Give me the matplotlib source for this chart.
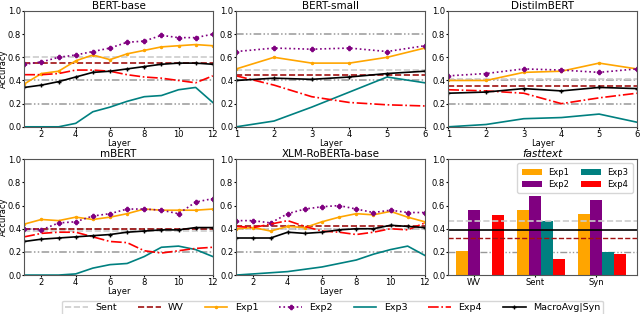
import matplotlib.pyplot as plt
import numpy as np

#
# Data
#

layers12 = list(range(1, 13))
layers6 = list(range(1, 7))

# BERT-base
bb_exp1 = [0.37, 0.46, 0.48, 0.57, 0.62, 0.58, 0.63, 0.66, 0.69, 0.70, 0.71, 0.70]
bb_exp2 = [0.54, 0.56, 0.60, 0.62, 0.65, 0.68, 0.73, 0.74, 0.79, 0.77, 0.77, 0.80]
bb_exp3 = [0.00, 0.00, 0.00, 0.03, 0.13, 0.17, 0.22, 0.26, 0.27, 0.32, 0.34, 0.21]
bb_exp4 = [0.45, 0.45, 0.46, 0.49, 0.49, 0.48, 0.45, 0.43, 0.42, 0.40, 0.38, 0.44]
bb_macro = [0.34, 0.36, 0.39, 0.43, 0.47, 0.48, 0.50, 0.52, 0.54, 0.55, 0.55, 0.54]
bb_sent, bb_wv = 0.60, 0.555
bb_base = [0.2, 0.4, 1.0]

# BERT-small
bs_exp1 = [0.50, 0.60, 0.55, 0.55, 0.60, 0.68]
bs_exp2 = [0.65, 0.68, 0.67, 0.68, 0.65, 0.70]
bs_exp3 = [0.00, 0.05, 0.17, 0.30, 0.43, 0.38]
bs_exp4 = [0.44, 0.36, 0.26, 0.21, 0.19, 0.18]
bs_macro = [0.40, 0.42, 0.41, 0.43, 0.46, 0.48]
bs_sent, bs_wv = 0.49, 0.45
bs_base = [0.4, 0.8, 1.0]

# DistilmBERT
db_exp1 = [0.40, 0.40, 0.47, 0.48, 0.55, 0.50]
db_exp2 = [0.44, 0.46, 0.50, 0.49, 0.47, 0.50]
db_exp3 = [0.00, 0.02, 0.07, 0.08, 0.11, 0.04]
db_exp4 = [0.32, 0.31, 0.29, 0.20, 0.25, 0.29]
db_macro = [0.29, 0.30, 0.33, 0.31, 0.34, 0.33]
db_sent, db_wv = 0.41, 0.355
db_base = [0.2, 0.4]

# mBERT
mb_exp1 = [0.44, 0.48, 0.47, 0.50, 0.48, 0.50, 0.53, 0.57, 0.56, 0.56, 0.56, 0.57]
mb_exp2 = [0.40, 0.39, 0.45, 0.46, 0.51, 0.53, 0.57, 0.57, 0.56, 0.53, 0.63, 0.66]
mb_exp3 = [0.00, 0.00, 0.00, 0.01, 0.06, 0.09, 0.10, 0.16, 0.24, 0.25, 0.22, 0.16]
mb_exp4 = [0.33, 0.36, 0.37, 0.37, 0.33, 0.29, 0.28, 0.21, 0.19, 0.21, 0.23, 0.24]
mb_macro = [0.29, 0.31, 0.32, 0.33, 0.34, 0.35, 0.37, 0.38, 0.39, 0.39, 0.41, 0.41]
mb_sent, mb_wv = 0.38, 0.40
mb_base = [0.2, 0.4]

# XLM-RoBERTa-base
xr_exp1 = [0.40, 0.41, 0.38, 0.42, 0.41, 0.46, 0.50, 0.53, 0.52, 0.55, 0.50, 0.46]
xr_exp2 = [0.47, 0.47, 0.45, 0.53, 0.57, 0.59, 0.60, 0.57, 0.54, 0.56, 0.54, 0.54]
xr_exp3 = [0.00, 0.01, 0.02, 0.03, 0.05, 0.07, 0.10, 0.13, 0.18, 0.22, 0.25, 0.17]
xr_exp4 = [0.42, 0.41, 0.44, 0.47, 0.42, 0.38, 0.37, 0.35, 0.37, 0.40, 0.39, 0.45]
xr_macro = [0.32, 0.32, 0.32, 0.37, 0.36, 0.37, 0.39, 0.40, 0.40, 0.43, 0.42, 0.41]
xr_sent, xr_wv = 0.40, 0.42
xr_base = [0.2, 0.4]

# fasttext
ft_groups = ["WV", "Sent", "Syn"]
ft_exp1 = [0.21, 0.56, 0.53]
ft_exp2 = [0.56, 0.68, 0.65]
ft_exp3 = [0.00, 0.47, 0.20]
ft_exp4 = [0.52, 0.14, 0.18]
ft_sent, ft_wv, ft_macro = 0.47, 0.32, 0.39
ft_base = [0.2]

#
# Styles
#

c_sent = "#cccccc"
c_wv = "#a01010"
c_exp1 = "orange"
c_exp2 = "purple"
c_exp3 = "teal"
c_exp4 = "red"
c_base = "#999999"
dashdotdot = (0, (5, 1.5, 1, 1.5, 1, 1.5))
fs = 6                                                                                                  # tick / label size
fs_title = 7.5                                                                                          # panel title size

fig = plt.figure(figsize=(6.4, 3.14), dpi=100)
axes = fig.subplots(2, 3)
fig.subplots_adjust(left=0.038, right=0.995, top=0.965, bottom=0.124, wspace=0.125, hspace=0.28)

line_panels = [
    (axes[0][0], "BERT-base", layers12, bb_exp1, bb_exp2, bb_exp3, bb_exp4, bb_macro, bb_sent, bb_wv, bb_base),
    (axes[0][1], "BERT-small", layers6, bs_exp1, bs_exp2, bs_exp3, bs_exp4, bs_macro, bs_sent, bs_wv, bs_base),
    (axes[0][2], "DistilmBERT", layers6, db_exp1, db_exp2, db_exp3, db_exp4, db_macro, db_sent, db_wv, db_base),
    (axes[1][0], "mBERT", layers12, mb_exp1, mb_exp2, mb_exp3, mb_exp4, mb_macro, mb_sent, mb_wv, mb_base),
    (axes[1][1], "XLM-RoBERTa-base", layers12, xr_exp1, xr_exp2, xr_exp3, xr_exp4, xr_macro, xr_sent, xr_wv, xr_base),
]

for ax, title, x, e1, e2, e3, e4, macro, sent, wv, base in line_panels:
    for b in base:
        ax.axhline(b, color=c_base, ls=dashdotdot, lw=1.1, zorder=1)
    ax.axhline(sent, color=c_sent, ls="--", lw=1.2, label="Sent")
    ax.axhline(wv, color=c_wv, ls="--", lw=1.2, label="WV")
    ax.plot(x, e1, color=c_exp1, ls="-", marker=".", ms=3, lw=1.2, label="Exp1")
    ax.plot(x, e2, color=c_exp2, ls=":", marker="P", ms=3, lw=1.2, label="Exp2")
    ax.plot(x, e3, color=c_exp3, ls="-", lw=1.2, label="Exp3")
    ax.plot(x, e4, color=c_exp4, ls="-.", lw=1.2, label="Exp4")
    ax.plot(x, macro, color="black", ls="-", marker="+", ms=3, lw=1.2, label="MacroAvg|Syn")

    ax.set_xlim(x[0], x[-1])
    ax.set_xticks(x[1::2] if len(x) == 12 else x)
    ax.set_xlabel("Layer", fontsize=fs, labelpad=0)
    ax.set_title(title, fontsize=fs_title, pad=1.5)

# fasttext bar panel
ax = axes[1][2]
pos = np.arange(len(ft_groups))
w = 0.2
ax.bar(pos - 0.2, ft_exp1, w, color=c_exp1, label="Exp1")
ax.bar(pos, ft_exp2, w, color=c_exp2, label="Exp2")
ax.bar(pos + 0.2, ft_exp3, w, color=c_exp3, label="Exp3")
ax.bar(pos + 0.4, ft_exp4, w, color=c_exp4, label="Exp4")
for b in ft_base:
    ax.axhline(b, color=c_base, ls=dashdotdot, lw=1.0, zorder=0)
ax.axhline(ft_sent, color=c_sent, ls="--", lw=1.2)
ax.axhline(ft_wv, color=c_wv, ls="--", lw=1.0)
ax.axhline(ft_macro, color="black", ls="-", lw=1.2)
ax.set_xticks(pos)
ax.set_xticklabels(ft_groups)
ax.set_xlim(-0.42, 2.67)
ax.set_title("fasttext", fontsize=fs_title, pad=1.5, style="italic")
ax.legend(ncol=2, fontsize=fs, loc="upper right", handlelength=2.4, columnspacing=1.4,
          handletextpad=0.8, borderpad=0.5, labelspacing=0.4)

# common axis settings
for row in axes:
    for a in row:
        a.set_ylim(0, 1.0)
        a.set_yticks([0.0, 0.2, 0.4, 0.6, 0.8, 1.0])
        a.tick_params(labelsize=fs, length=1.5, pad=0.8)
        [a.spines[s].set_color("#555555") for s in a.spines]

axes[0][0].set_ylabel("Accuracy", fontsize=fs, labelpad=0.2)
axes[1][0].set_ylabel("Accuracy", fontsize=fs, labelpad=0.2)

# shared legend at the bottom
handles, labels = axes[0][0].get_legend_handles_labels()
fig.legend(handles, labels, ncol=7, fontsize=6.8, loc="upper center",
           bbox_to_anchor=(0.52, 0.058), handlelength=2.4, columnspacing=2.2, borderpad=0.3)

plt.savefig("out.png", dpi=100)
